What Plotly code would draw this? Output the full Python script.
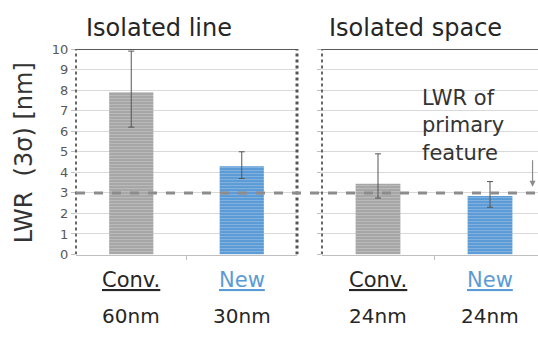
import plotly.graph_objects as go

# ---- data ----
panels = ["Isolated line", "Isolated space"]
methods = ["Conv.", "New"]
sizes_line = ["60nm", "30nm"]
sizes_space = ["24nm", "24nm"]
lwr_line = [7.9, 4.3]
lwr_line_hi = [9.9, 5.0]
lwr_line_lo = [6.2, 3.7]
lwr_space = [3.45, 2.85]
lwr_space_hi = [4.9, 3.55]
lwr_space_lo = [2.75, 2.3]
primary_lwr = 3.0
y_ticks = list(range(0, 11))

W, H = 538, 339
gray = "#a6a6a6"
blue = "#5b9bd5"
colors = [gray, blue]
fg = ["#d0d0d0", "#a9c9ec"]
font = "DejaVu Sans"

fig = go.Figure()

def add_panel(vals, hi, lo, xa, ya):
    xs = [0, 1]
    for i in range(2):
        fig.add_trace(go.Bar(
            x=[xs[i]], y=[vals[i]], xaxis=xa, yaxis=ya, width=0.4,
            marker=dict(color=colors[i], line=dict(width=0),
                        pattern=dict(shape="-", fgcolor=fg[i], bgcolor=colors[i], size=3, solidity=0.35)),
            error_y=dict(type="data", symmetric=False,
                         array=[hi[i] - vals[i]], arrayminus=[vals[i] - lo[i]],
                         color="#555555", thickness=1, width=3),
            showlegend=False, hoverinfo="skip"))

add_panel(lwr_line, lwr_line_hi, lwr_line_lo, "x", "y")
add_panel(lwr_space, lwr_space_hi, lwr_space_lo, "x2", "y2")

ydom = [(H - 259) / H, (H - 44) / H]
d1 = [76 / W, 297 / W]
d2 = [322 / W, 1.0]
cat_w2 = (546 - 322) / 2  # px per category in right panel

common_x = dict(showgrid=False, zeroline=False, showline=True, linecolor="#bfbfbf", linewidth=1,
                tickvals=[0.5], ticktext=[""], ticks="outside", ticklen=4, tickcolor="#bfbfbf")
common_y = dict(range=[0, 10], tickvals=y_ticks, showgrid=True, gridcolor="#d9d9d9", gridwidth=1,
                zeroline=False, showline=False, ticks="outside", ticklen=4, tickcolor="#bfbfbf")

fig.update_layout(
    width=W, height=H, margin=dict(l=0, r=0, t=0, b=0),
    paper_bgcolor="white", plot_bgcolor="white", bargap=0.6,
    font=dict(family=font, color="#333333"),
    xaxis=dict(domain=d1, range=[-0.5, 1.5], anchor="y", **common_x),
    xaxis2=dict(domain=d2, range=[-0.5, -0.5 + (W - 322) / cat_w2], anchor="y2", **common_x),
    yaxis=dict(domain=ydom, anchor="x", tickfont=dict(size=13, color="#595959"), **common_y),
    yaxis2=dict(domain=ydom, anchor="x2", showticklabels=False, **common_y),
)

# panel borders (top solid, sides dotted)
for xr, yr in [("x domain", "y"), ("x2 domain", "y2")]:
    fig.add_shape(type="line", xref=xr, yref=yr, x0=0, x1=1, y0=10, y1=10,
                  line=dict(color="#595959", width=2))
fig.add_shape(type="line", xref="x domain", yref="y", x0=0, x1=0, y0=0, y1=10,
              line=dict(color="#666666", width=2, dash="dot"))
fig.add_shape(type="line", xref="x domain", yref="y", x0=1, x1=1, y0=0, y1=10,
              line=dict(color="#555555", width=3, dash="dot"))
fig.add_shape(type="line", xref="x2 domain", yref="y2", x0=0, x1=0, y0=0, y1=10,
              line=dict(color="#666666", width=2, dash="dot"))

# primary-feature reference line spanning both panels
fig.add_shape(type="line", xref="paper", yref="y", x0=d1[0], x1=1, y0=primary_lwr, y1=primary_lwr,
              line=dict(color="#8c8c8c", width=3, dash="dash"), layer="above")

# titles
fig.add_annotation(text=panels[0], xref="x domain", yref="paper", x=0.376, y=(H - 22) / H,
                   yanchor="middle", showarrow=False, font=dict(size=24, color="#262626"))
fig.add_annotation(text=panels[1], xref="x2 domain", yref="paper", x=0.435, y=(H - 22) / H,
                   yanchor="middle", showarrow=False, font=dict(size=24, color="#262626"))

# y-axis title
fig.add_annotation(text="LWR  (3σ) [nm]", xref="paper", yref="paper", x=24 / W, y=(H - 153) / H,
                   xanchor="center", yanchor="middle",
                   textangle=-90, showarrow=False, font=dict(size=24, color="#333333"))

# category labels
for xa, sizes in [("x", sizes_line), ("x2", sizes_space)]:
    for i in range(2):
        c = "#262626" if i == 0 else blue
        fig.add_annotation(text="<u>%s</u>" % methods[i], xref=xa, yref="paper", x=i, y=(H - 286) / H,
                           yanchor="middle", showarrow=False, font=dict(size=21, color=c))
        fig.add_annotation(text=sizes[i], xref=xa, yref="paper", x=i, y=(H - 323) / H,
                           yanchor="middle", showarrow=False, font=dict(size=20, color="#262626"))

fig.add_annotation(text="LWR of<br>primary<br>feature", xref="x2", yref="y2", x=0.375, y=6.3,
                   showarrow=False, align="left", xanchor="left", yanchor="middle",
                   font=dict(size=21, color="#333333"))

# small arrow at right edge pointing to the reference line
fig.add_annotation(text="", xref="x2", yref="y2", x=1.38, y=primary_lwr + 0.3,
                   ax=0, ay=-28, showarrow=True, arrowhead=2, arrowsize=1, arrowwidth=1.2,
                   arrowcolor="#8c8c8c")

fig.write_html("out.html", config={"displayModeBar": False},
               post_script="document.body.style.margin='0px';")
